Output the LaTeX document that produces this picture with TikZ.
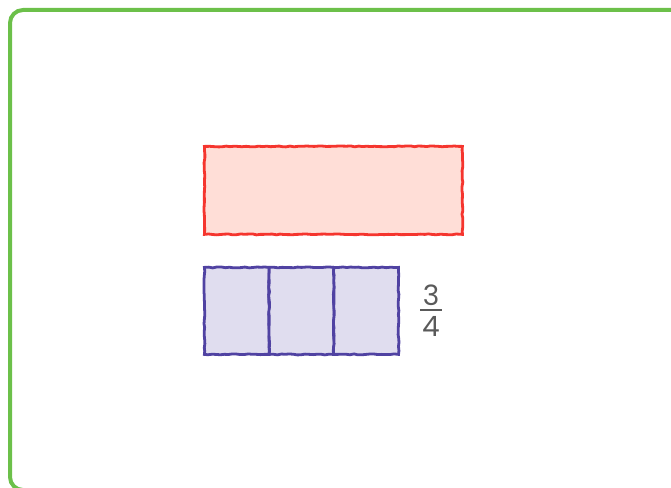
\documentclass[tikz,border=0pt]{standalone}
\usepackage{fontspec}
\setsansfont{Poppins}
\usetikzlibrary{decorations.pathmorphing}
\definecolor{framegreen}{HTML}{6CC04A}
\definecolor{redline}{HTML}{F5352E}
\definecolor{redfill}{HTML}{FFDED7}
\definecolor{purpline}{HTML}{5042A2}
\definecolor{purpfill}{HTML}{E0DDEF}
\definecolor{fractext}{HTML}{5A5A5A}
\tikzset{
  sketch/.style={decorate,decoration={random steps,segment length=4pt,amplitude=0.5pt}},
  redbar/.style={draw=redline,fill=redfill,line width=2.8pt,minimum width=258pt,minimum height=88pt,inner sep=0pt,anchor=north west,sketch},
  cell/.style={draw=purpline,fill=purpfill,line width=2.8pt,minimum width=64.7pt,minimum height=87pt,inner sep=0pt,anchor=north west,sketch},
  fracdigit/.style={text=fractext,font=\sffamily\fontsize{28}{30}\selectfont,inner sep=0pt,anchor=base},
  fracbar/.style={draw=fractext,line width=1.1pt}
}
\begin{document}
\begin{tikzpicture}[x=1pt,y=-1pt]
\useasboundingbox (0,0) rectangle (671,487);
\begin{scope}
\clip (0,0) rectangle (671,487);
\draw[framegreen,line width=4pt,rounded corners=13pt] (10,10) rectangle (690,490);
\end{scope}
\node[redbar] (whole) at (203,145) {};
\node[cell] (c1) at (203,266) {};
\node[cell] (c2) at (267.7,266) {};
\node[cell] (c3) at (332.4,266) {};
\node[fracdigit] (num) at (431,305) {3};
\node[fracdigit] (den) at (431,336) {4};
\coordinate (barL) at (420,310);
\coordinate (barR) at (442,310);
\draw[fracbar] (barL) -- (barR);
\end{tikzpicture}
\end{document}
